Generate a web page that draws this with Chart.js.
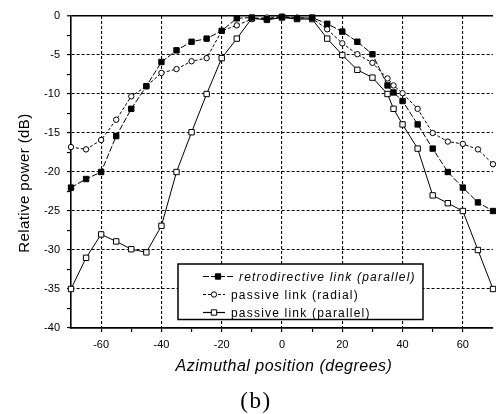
<!DOCTYPE html>
<html>
<head>
<meta charset="utf-8">
<title>Radiation pattern (b)</title>
<script src="https://cdn.jsdelivr.net/npm/chart.js@4.4.1/dist/chart.umd.min.js"></script>
<style>
    html, body { margin: 0; padding: 0; background: #fff; overflow: hidden; }
    #wrap { position: relative; width: 498px; height: 414px; }
</style>
</head>
<body>
<div id="wrap"><canvas id="patternChart"></canvas></div>
<script>
// ============================================
// DATA - values
// ============================================

const angles = [-70, -65, -60, -55, -50, -45, -40, -35, -30, -25, -20, -15, -10, -5, 0,
                5, 10, 15, 20, 25, 30, 35, 37, 40, 45, 50, 55, 60, 65, 70];

// retrodirective link (parallel) - filled squares
const retroPower = [-22.0, -20.9, -20.0, -15.4, -11.9, -9.0, -5.9, -4.4, -3.3, -2.9, -1.9, -0.3, -0.2, -0.4, -0.1,
                    -0.3, -0.2, -1.0, -2.0, -3.3, -4.9, -8.9, -9.8, -10.9, -13.9, -17.0, -20.0, -22.0, -23.9, -25.0];

// passive link (radial) - open circles
const radialPower = [-16.8, -17.1, -15.9, -13.3, -10.3, -9.0, -7.3, -6.8, -5.8, -5.4, -1.9, -1.2, -0.4, -0.2, -0.1,
                     -0.2, -0.3, -1.7, -3.5, -4.9, -6.0, -8.0, -8.9, -9.9, -11.9, -15.0, -16.1, -16.4, -17.1, -19.0];

// passive link (parallel) - open squares
const parallelPower = [-35.0, -31.0, -28.0, -28.9, -29.9, -30.3, -26.9, -20.0, -14.9, -10.0, -5.4, -2.9, -0.3, -0.5, -0.2,
                       -0.4, -0.4, -2.9, -5.0, -6.9, -7.9, -10.0, -11.9, -13.9, -17.0, -23.0, -24.0, -25.0, -30.0, -35.0];

const seriesLabels = ['retrodirective link (parallel)', 'passive link (radial)', 'passive link (parallel)'];

const xTickValues = [-60, -50, -40, -30, -20, -10, 0, 10, 20, 30, 40, 50, 60];
const yTickValues = [0, -2.5, -5, -7.5, -10, -12.5, -15, -17.5, -20, -22.5, -25, -27.5, -30, -32.5, -35, -37.5, -40];

const xTitle = 'Azimuthal position (degrees)';
const yTitle = 'Relative power (dB)';
const panelLabel = '(b)';

// ============================================
// HELPERS
// ============================================

const SANS = '"Liberation Sans", Arial, sans-serif';
const SERIF = '"Liberation Serif", "Times New Roman", serif';

function toPoints(ys) {
    return angles.map((a, i) => ({ x: a, y: ys[i] }));
}

function isMajorX(v) { return v % 20 === 0; }
function isMajorY(v) { return v % 5 === 0; }

function drawMarker(ctx, ds, x, y) {
    ctx.save();
    ctx.lineWidth = 1;
    ctx.strokeStyle = '#000';
    ctx.fillStyle = ds.pointBackgroundColor;
    ctx.setLineDash([]);
    ctx.beginPath();
    if (ds.pointStyle === 'rect') {
        const s = ds.pointRadius * Math.SQRT1_2;
        ctx.rect(x - s, y - s, 2 * s, 2 * s);
    } else {
        ctx.arc(x, y, ds.pointRadius, 0, Math.PI * 2);
    }
    ctx.fill();
    ctx.stroke();
    ctx.restore();
}

// titles, panel label and the boxed legend inside the plot
const overlayPlugin = {
    id: 'overlay',
    afterDraw(chart) {
        const ctx = chart.ctx;
        ctx.save();
        ctx.fillStyle = '#000';
        ctx.textBaseline = 'middle';
        ctx.textAlign = 'center';

        // y title
        ctx.save();
        ctx.translate(25, 183);
        ctx.rotate(-Math.PI / 2);
        ctx.font = '15px ' + SANS;
        ctx.letterSpacing = '0.4px';
        ctx.fillText(yTitle, 0, 0);
        ctx.restore();

        // x title
        ctx.save();
        ctx.font = 'italic 16px ' + SANS;
        ctx.letterSpacing = '0.5px';
        ctx.fillText(xTitle, 284, 367);
        ctx.restore();

        // panel label
        ctx.save();
        ctx.font = '23px ' + SERIF;
        ctx.letterSpacing = '1.5px';
        ctx.fillText(panelLabel, 256, 402);
        ctx.restore();

        // legend box
        const box = { x: 178, y: 264, w: 245, h: 55.5 };
        ctx.fillStyle = '#fff';
        ctx.fillRect(box.x, box.y, box.w, box.h);
        ctx.lineWidth = 1.5;
        ctx.strokeStyle = '#000';
        ctx.strokeRect(box.x, box.y, box.w, box.h);

        chart.data.datasets.forEach((ds, i) => {
            const rowY = 276.5 + i * 18;
            const lineEnd = i === 0 ? 233 : 225;
            const markX = i === 0 ? 218 : 214;
            ctx.save();
            ctx.lineWidth = 1.2;
            ctx.strokeStyle = '#000';
            ctx.setLineDash(ds.borderDash || []);
            ctx.beginPath();
            ctx.moveTo(203, rowY);
            ctx.lineTo(lineEnd, rowY);
            ctx.stroke();
            ctx.restore();
            drawMarker(ctx, ds, markX, rowY);

            ctx.save();
            ctx.fillStyle = '#000';
            ctx.textAlign = 'left';
            ctx.textBaseline = 'middle';
            ctx.font = (i === 0 ? 'italic ' : '') + '12px ' + SANS;
            ctx.letterSpacing = '1.2px';
            ctx.fillText(ds.label, i === 0 ? 239 : 231, rowY + 1);
            ctx.restore();
        });
        ctx.restore();
    }
};

// ============================================
// CHART
// ============================================

const ctx = document.getElementById('patternChart');

const baseSeries = {
    showLine: true,
    borderColor: '#000',
    borderWidth: 1,
    pointBorderColor: '#000',
    pointBorderWidth: 1,
    pointHoverRadius: 4,
    tension: 0,
    clip: false
};

new Chart(ctx, {
    type: 'scatter',
    data: {
        datasets: [
            Object.assign({}, baseSeries, {
                label: seriesLabels[0],
                data: toPoints(retroPower),
                borderDash: [6, 2],
                pointStyle: 'rect',
                pointRadius: 3.8,
                pointBackgroundColor: '#000'
            }),
            Object.assign({}, baseSeries, {
                label: seriesLabels[1],
                data: toPoints(radialPower),
                borderDash: [3, 2],
                pointStyle: 'circle',
                pointRadius: 2.7,
                pointBackgroundColor: '#fff'
            }),
            Object.assign({}, baseSeries, {
                label: seriesLabels[2],
                data: toPoints(parallelPower),
                pointStyle: 'rect',
                pointRadius: 3.8,
                pointBackgroundColor: '#fff'
            })
        ]
    },
    options: {
        responsive: true,
        maintainAspectRatio: false,
        animation: false,
        layout: { padding: { top: 16, right: 0, bottom: 0, left: 0 } },
        plugins: {
            legend: { display: false },
            tooltip: { enabled: false }
        },
        scales: {
            x: {
                type: 'linear',
                min: -70,
                max: 70,
                afterBuildTicks: (axis) => { axis.ticks = xTickValues.map(v => ({ value: v })); },
                afterFit: (axis) => { axis.height = 86; },
                grid: {
                    color: (c) => (c.tick && isMajorX(c.tick.value)) ? '#000' : 'rgba(0,0,0,0)',
                    lineWidth: 1.1,
                    tickColor: '#000',
                    tickLength: 4,
                    tickWidth: 1.2
                },
                border: { display: true, color: '#000', width: 1.8, dash: [3, 2] },
                ticks: {
                    autoSkip: false,
                    maxRotation: 0,
                    padding: 6,
                    color: '#000',
                    font: { family: SANS, size: 11 },
                    callback: (v) => isMajorX(v) ? String(v) : ''
                }
            },
            y: {
                type: 'linear',
                min: -40,
                max: 0,
                afterBuildTicks: (axis) => { axis.ticks = yTickValues.map(v => ({ value: v })); },
                afterFit: (axis) => { axis.width = 71; },
                grid: {
                    color: (c) => (c.tick && isMajorY(c.tick.value)) ? '#000' : 'rgba(0,0,0,0)',
                    lineWidth: (c) => (c.tick && c.tick.value === 0) ? 1.6 : 1.1,
                    tickColor: '#000',
                    tickLength: 4,
                    tickWidth: 1.2
                },
                border: {
                    display: true,
                    color: '#000',
                    width: 1.6,
                    dash: (c) => (c.tick && c.tick.value === 0) ? [] : [3, 2]
                },
                ticks: {
                    autoSkip: false,
                    padding: 7,
                    color: '#000',
                    font: { family: SANS, size: 11 },
                    callback: (v) => isMajorY(v) ? String(v) : ''
                }
            }
        }
    },
    plugins: [overlayPlugin]
});
</script>
</body>
</html>
